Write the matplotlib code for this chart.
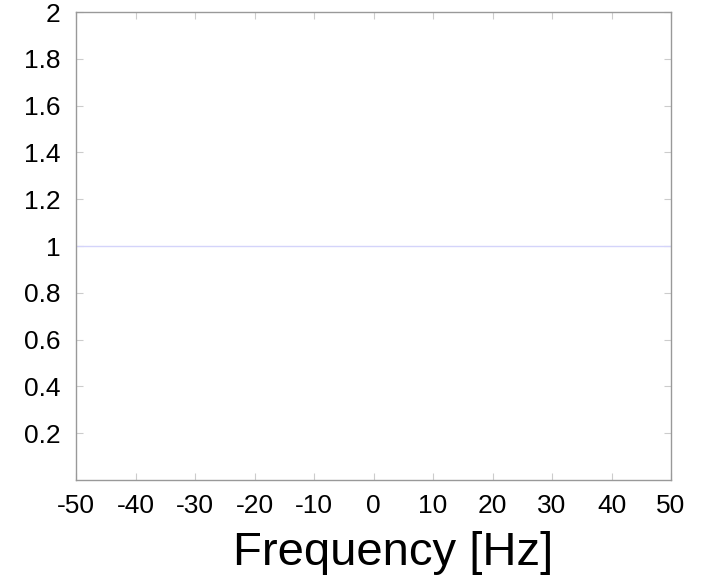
import numpy as np
import matplotlib.pyplot as plt

plt.rcParams['font.family'] = ['Liberation Sans', 'DejaVu Sans']
plt.rcParams['axes.unicode_minus'] = False

# flat magnitude response
freq = [-50, 50]
magnitude = [1, 1]

xticks = [-50, -40, -30, -20, -10, 0, 10, 20, 30, 40, 50]
yticks = [0.2, 0.4, 0.6, 0.8, 1, 1.2, 1.4, 1.6, 1.8, 2]
ytick_labels = ["0.2", "0.4", "0.6", "0.8", "1", "1.2", "1.4", "1.6", "1.8", "2"]

fig = plt.figure(figsize=(7.02, 5.77), dpi=100)
ax = fig.add_axes([76 / 702, 1 - 480 / 577, (671 - 76) / 702, (480 - 12) / 577])

ax.plot(freq, magnitude, color='#d4d4fa', lw=1)

ax.set_xlim(-50, 50)
ax.set_ylim(0, 2)
ax.set_xticks(xticks)
ax.set_yticks(yticks)
ax.set_yticklabels(ytick_labels)

for s in ax.spines.values():
    s.set_color('#999999')
    s.set_linewidth(1)

ax.tick_params(direction='in', length=5, width=0.8, color='#cccccc',
               labelsize=19, top=True, right=True)
ax.tick_params(axis='x', pad=10)
ax.tick_params(axis='y', pad=11)

ax.set_xlabel("Frequency [Hz]", fontsize=34)
ax.xaxis.label.set_va('baseline')
ax.xaxis.set_label_coords(0.533, (480 - 565) / 468)

plt.savefig("out.png", dpi=100)
